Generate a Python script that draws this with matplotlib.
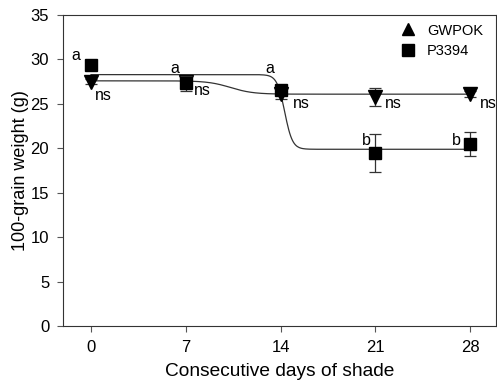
import numpy as np
import matplotlib
matplotlib.use("Agg")
import matplotlib.pyplot as plt

days = [0, 7, 14, 21, 28]
gwpok = [27.5, 27.5, 26.1, 25.8, 26.1]
gwpok_err = [0.3, 0.3, 0.6, 1.0, 0.3]
p3394 = [29.4, 27.3, 26.6, 19.5, 20.5]
p3394_err = [0.3, 0.8, 0.4, 2.1, 1.4]

# fitted sigmoid parameters (top, bottom, centre, slope)
gwpok_fit = (27.6, 26.1, 10.3, 1.2)
p3394_fit = (28.3, 19.9, 14.3, 3.5)

letters = ["a", "a", "a", "b", "b"]
letter_x = [-1.1, 6.2, 13.2, 20.3, 27.0]
letter_y = [30.5, 29.0, 29.0, 20.9, 20.9]
ns_x = [0.9, 8.2, 15.5, 22.3, 29.3]
ns_y = [26.0, 26.5, 25.1, 25.1, 25.1]

plt.rcParams['font.family'] = ['Liberation Sans', 'DejaVu Sans']

fig = plt.figure(figsize=(4.97, 3.86), dpi=100)
ax = fig.add_axes([0.127, 0.155, 0.871, 0.806])


def sigmoid(x, p):
    top, bottom, x0, k = p
    return bottom + (top - bottom) / (1 + np.exp(k * (x - x0)))


xs = np.linspace(0, 28, 400)
ax.plot(xs, sigmoid(xs, gwpok_fit), color='#333333', lw=0.9, zorder=2)
ax.plot(xs, sigmoid(xs, p3394_fit), color='#333333', lw=0.9, zorder=2)

ax.errorbar(days, gwpok, yerr=gwpok_err, fmt='v', color='black', ms=10,
            ecolor='#333333', elinewidth=0.9, capsize=4, capthick=0.9, zorder=3)
ax.errorbar(days, p3394, yerr=p3394_err, fmt='s', color='black', ms=9,
            ecolor='#333333', elinewidth=0.9, capsize=4, capthick=0.9, zorder=4)

for x, y, t in zip(letter_x, letter_y, letters):
    ax.text(x, y, t, fontsize=11.5, ha='center', va='center')
for x, y in zip(ns_x, ns_y):
    ax.text(x, y, "ns", fontsize=11.5, ha='center', va='center')

# legend
ax.plot([], [], '^', color='black', ms=9, label='GWPOK')
ax.plot([], [], 's', color='black', ms=8, label='P3394')
h, l = ax.get_legend_handles_labels()
ax.legend(h[-2:], l[-2:], loc='upper right', bbox_to_anchor=(1.0, 1.015),
          frameon=False, fontsize=10.5, handletextpad=0.7, labelspacing=0.45,
          handlelength=1.2)

ax.set_xlim(-2.06, 29.9)
ax.set_ylim(0, 35)
ax.set_xticks(days)
ax.set_yticks(range(0, 36, 5))
ax.tick_params(direction='out', labelsize=12, color='#555555')
ax.tick_params(axis='x', length=4, pad=6)
ax.tick_params(axis='y', length=4, pad=6)
for s in ax.spines.values():
    s.set_color('#333333')

ax.set_xlabel("Consecutive days of shade", fontsize=13.8, labelpad=6)
ax.set_ylabel("100-grain weight (g)", fontsize=13, labelpad=1)

plt.savefig("out.png", dpi=100)
plt.close()
